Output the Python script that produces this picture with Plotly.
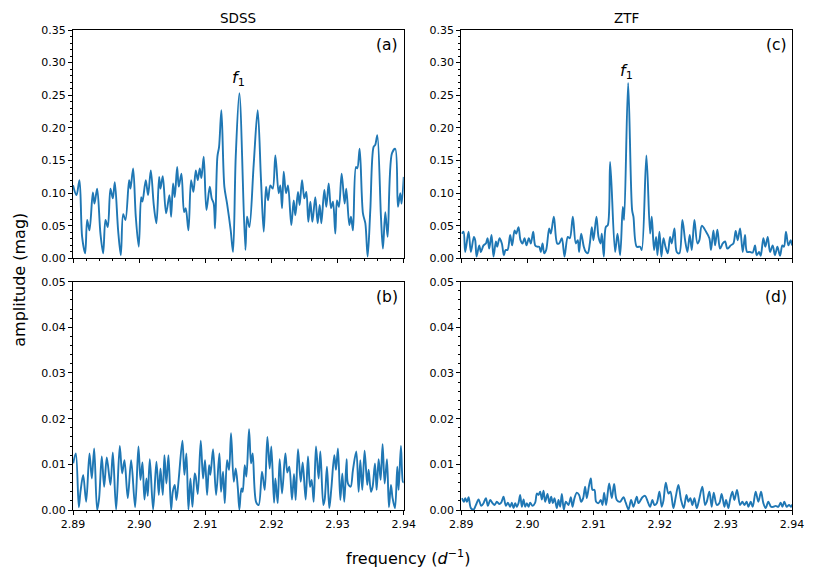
import plotly.graph_objects as go

# ---------------- data (local extrema) ----------------
sdss_freq = [2.8900, 2.89053, 2.89098, 2.89138, 2.89184, 2.89214, 2.89249, 2.89300, 2.89325, 2.89365,
             2.89415, 2.89456, 2.89491, 2.89526, 2.89566, 2.89602, 2.89632, 2.89682, 2.89723, 2.89758,
             2.89793, 2.89848, 2.89869, 2.89909, 2.89949, 2.89994, 2.90030, 2.90050, 2.90100, 2.90135,
             2.90176, 2.90221, 2.90261, 2.90302, 2.90322, 2.90357, 2.90407, 2.90458, 2.90483, 2.90513,
             2.90538, 2.90574, 2.90599, 2.90639, 2.90679, 2.90704, 2.90745, 2.90785, 2.90820, 2.90856,
             2.90886, 2.90916, 2.90941, 2.90976, 2.91017, 2.91067, 2.91097, 2.91127, 2.91147, 2.91183,
             2.91208, 2.91243, 2.91288, 2.91329, 2.91384, 2.91419, 2.91460, 2.91515, 2.91606, 2.91631,
             2.91666, 2.91732, 2.91792, 2.91842, 2.91883, 2.91918, 2.91948, 2.91983, 2.92019, 2.92059,
             2.92109, 2.92134, 2.92160, 2.92185, 2.92220, 2.92250, 2.92300, 2.92336, 2.92361, 2.92401,
             2.92426, 2.92462, 2.92497, 2.92527, 2.92557, 2.92588, 2.92618, 2.92663, 2.92698, 2.92729,
             2.92754, 2.92799, 2.92829, 2.92865, 2.92900, 2.92930, 2.92965, 2.92990, 2.93020, 2.93061,
             2.93106, 2.93131, 2.93177, 2.93202, 2.93232, 2.93277, 2.93298, 2.93333, 2.93383, 2.93419,
             2.93454, 2.93494, 2.93544, 2.93569, 2.93600, 2.93655, 2.93685, 2.93721, 2.93756, 2.93821,
             2.93872, 2.93912, 2.93947, 2.93967, 2.94000]
sdss_amp = [0.112, 0.097, 0.120, 0.033, 0.008, 0.059, 0.043, 0.101, 0.084, 0.107,
            0.038, 0.008, 0.059, 0.048, 0.107, 0.092, 0.117, 0.043, 0.005, 0.068,
            0.059, 0.120, 0.107, 0.138, 0.064, 0.018, 0.094, 0.087, 0.120, 0.097,
            0.135, 0.082, 0.054, 0.125, 0.107, 0.126, 0.069, 0.097, 0.064, 0.115,
            0.094, 0.140, 0.110, 0.130, 0.071, 0.077, 0.043, 0.120, 0.102, 0.135,
            0.120, 0.138, 0.123, 0.156, 0.074, 0.110, 0.092, 0.084, 0.046, 0.156,
            0.171, 0.227, 0.110, 0.084, 0.043, 0.010, 0.156, 0.253, 0.013, 0.064,
            0.048, 0.145, 0.227, 0.120, 0.041, 0.110, 0.089, 0.112, 0.107, 0.158,
            0.100, 0.112, 0.077, 0.133, 0.100, 0.112, 0.051, 0.089, 0.066, 0.102,
            0.082, 0.120, 0.092, 0.102, 0.056, 0.087, 0.056, 0.094, 0.054, 0.082,
            0.054, 0.105, 0.079, 0.115, 0.077, 0.087, 0.038, 0.089, 0.079, 0.130,
            0.084, 0.107, 0.051, 0.064, 0.043, 0.140, 0.138, 0.168, 0.069, 0.054,
            0.003, 0.074, 0.171, 0.174, 0.189, 0.064, 0.015, 0.071, 0.033, 0.161,
            0.168, 0.079, 0.100, 0.084, 0.125]

ztf_freq = [2.89010, 2.89035, 2.89060, 2.89111, 2.89146, 2.89191, 2.89211, 2.89232, 2.89272, 2.89297,
            2.89337, 2.89373, 2.89398, 2.89423, 2.89458, 2.89488, 2.89524, 2.89544, 2.89579, 2.89614,
            2.89645, 2.89670, 2.89700, 2.89740, 2.89770, 2.89806, 2.89831, 2.89866, 2.89896, 2.89926,
            2.89957, 2.89987, 2.90022, 2.90052, 2.90088, 2.90118, 2.90148, 2.90178, 2.90203, 2.90229,
            2.90254, 2.90284, 2.90329, 2.90354, 2.90400, 2.90450, 2.90480, 2.90521, 2.90561, 2.90611,
            2.90642, 2.90687, 2.90732, 2.90762, 2.90782, 2.90813, 2.90853, 2.90883, 2.90913, 2.90944,
            2.90974, 2.90999, 2.91044, 2.91075, 2.91105, 2.91125, 2.91155, 2.91185, 2.91216, 2.91251,
            2.91326, 2.91362, 2.91402, 2.91442, 2.91462, 2.91523, 2.91583, 2.91603, 2.91653, 2.91704,
            2.91729, 2.91799, 2.91855, 2.91880, 2.91915, 2.91946, 2.91966, 2.91996, 2.92026, 2.92057,
            2.92087, 2.92122, 2.92157, 2.92182, 2.92223, 2.92258, 2.92298, 2.92343, 2.92384, 2.92419,
            2.92454, 2.92485, 2.92525, 2.92570, 2.92600, 2.92636, 2.92701, 2.92751, 2.92776, 2.92812,
            2.92837, 2.92872, 2.92912, 2.92953, 2.92988, 2.93023, 2.93074, 2.93114, 2.93149, 2.93179,
            2.93215, 2.93255, 2.93290, 2.93320, 2.93366, 2.93406, 2.93441, 2.93467, 2.93502, 2.93527,
            2.93567, 2.93597, 2.93633, 2.93668, 2.93708, 2.93743, 2.93779, 2.93819, 2.93854, 2.93879,
            2.93909, 2.93945, 2.93980, 2.94000]
ztf_amp = [0.038, 0.041, 0.010, 0.041, 0.010, 0.033, 0.028, 0.003, 0.020, 0.010,
           0.020, 0.023, 0.031, 0.015, 0.036, 0.003, 0.026, 0.018, 0.031, 0.023,
           0.005, 0.013, 0.013, 0.036, 0.020, 0.043, 0.038, 0.048, 0.028, 0.023,
           0.031, 0.020, 0.031, 0.023, 0.041, 0.020, 0.018, 0.018, 0.010, 0.023,
           0.008, 0.013, 0.046, 0.038, 0.064, 0.023, 0.023, 0.031, 0.003, 0.033,
           0.031, 0.064, 0.023, 0.028, 0.010, 0.038, 0.018, 0.010, 0.008, 0.023,
           0.048, 0.028, 0.064, 0.033, 0.023, 0.038, 0.003, 0.048, 0.051, 0.148,
           0.010, 0.038, 0.005, 0.079, 0.059, 0.269, 0.074, 0.064, 0.018, 0.018,
           0.013, 0.158, 0.038, 0.064, 0.013, 0.033, 0.005, 0.041, 0.003, 0.031,
           0.018, 0.008, 0.033, 0.023, 0.046, 0.010, 0.008, 0.059, 0.028, 0.010,
           0.036, 0.013, 0.059, 0.023, 0.028, 0.050, 0.041, 0.031, 0.013, 0.043,
           0.020, 0.044, 0.015, 0.023, 0.026, 0.015, 0.020, 0.023, 0.042, 0.028,
           0.046, 0.010, 0.036, 0.010, 0.010, 0.009, 0.020, 0.005, 0.010, 0.004,
           0.031, 0.018, 0.033, 0.010, 0.020, 0.005, 0.018, 0.004, 0.020, 0.018,
           0.041, 0.020, 0.028, 0.020]

sdss_res_freq = [2.89003, 2.89043, 2.89088, 2.89113, 2.89154, 2.89199, 2.89249, 2.89284, 2.89320, 2.89365,
                 2.89395, 2.89435, 2.89471, 2.89511, 2.89566, 2.89602, 2.89652, 2.89707, 2.89743, 2.89778,
                 2.89828, 2.89879, 2.89939, 2.89989, 2.90020, 2.90050, 2.90080, 2.90110, 2.90130, 2.90161,
                 2.90211, 2.90261, 2.90297, 2.90322, 2.90357, 2.90382, 2.90412, 2.90443, 2.90483, 2.90508,
                 2.90538, 2.90564, 2.90599, 2.90654, 2.90684, 2.90714, 2.90745, 2.90775, 2.90805, 2.90840,
                 2.90855, 2.90886, 2.90931, 2.90966, 2.90996, 2.91027, 2.91057, 2.91077, 2.91117, 2.91163,
                 2.91213, 2.91238, 2.91268, 2.91294, 2.91329, 2.91359, 2.91389, 2.91430, 2.91460, 2.91490,
                 2.91515, 2.91545, 2.91565, 2.91596, 2.91621, 2.91661, 2.91691, 2.91716, 2.91767, 2.91807,
                 2.91857, 2.91898, 2.91938, 2.91973, 2.91998, 2.92039, 2.92059, 2.92094, 2.92124, 2.92160,
                 2.92210, 2.92240, 2.92270, 2.92310, 2.92341, 2.92366, 2.92401, 2.92442, 2.92472, 2.92517,
                 2.92552, 2.92583, 2.92608, 2.92638, 2.92673, 2.92713, 2.92739, 2.92784, 2.92804, 2.92839,
                 2.92874, 2.92905, 2.92950, 2.92975, 2.93005, 2.93041, 2.93071, 2.93101, 2.93136, 2.93156,
                 2.93197, 2.93232, 2.93282, 2.93318, 2.93343, 2.93373, 2.93408, 2.93448, 2.93469, 2.93504,
                 2.93529, 2.93565, 2.93590, 2.93620, 2.93650, 2.93680, 2.93711, 2.93746, 2.93776, 2.93806,
                 2.93831, 2.93867, 2.93902, 2.93922, 2.93957, 2.93987, 2.94000]
sdss_res_amp = [0.0102, 0.0124, 0.0006, 0.0040, 0.0077, 0.0018, 0.0124, 0.0069, 0.0135, 0.0000,
                0.0026, 0.0117, 0.0051, 0.0115, 0.0055, 0.0126, 0.0001, 0.0140, 0.0080, 0.0109,
                0.0026, 0.0109, 0.0006, 0.0139, 0.0066, 0.0104, 0.0023, 0.0069, 0.0031, 0.0111,
                0.0001, 0.0106, 0.0033, 0.0091, 0.0033, 0.0120, 0.0058, 0.0120, 0.0000, 0.0040,
                0.0055, 0.0022, 0.0069, 0.0152, 0.0077, 0.0124, 0.0001, 0.0069, 0.0007, 0.0080,
                0.0073, 0.0035, 0.0152, 0.0069, 0.0109, 0.0033, 0.0098, 0.0077, 0.0133, 0.0033,
                0.0124, 0.0040, 0.0084, 0.0015, 0.0109, 0.0088, 0.0168, 0.0062, 0.0091, 0.0051,
                0.0001, 0.0047, 0.0040, 0.0098, 0.0073, 0.0177, 0.0102, 0.0124, 0.0018, 0.0011,
                0.0084, 0.0044, 0.0160, 0.0091, 0.0139, 0.0016, 0.0069, 0.0015, 0.0111, 0.0036,
                0.0124, 0.0082, 0.0095, 0.0023, 0.0079, 0.0022, 0.0133, 0.0062, 0.0104, 0.0023,
                0.0117, 0.0051, 0.0066, 0.0018, 0.0139, 0.0069, 0.0128, 0.0011, 0.0022, 0.0095,
                0.0004, 0.0047, 0.0120, 0.0088, 0.0135, 0.0022, 0.0080, 0.0018, 0.0111, 0.0058,
                0.0051, 0.0088, 0.0128, 0.0040, 0.0109, 0.0044, 0.0130, 0.0055, 0.0088, 0.0040,
                0.0051, 0.0102, 0.0044, 0.0111, 0.0066, 0.0144, 0.0058, 0.0111, 0.0006, 0.0055,
                0.0026, 0.0004, 0.0095, 0.0044, 0.0140, 0.0062, 0.0060]

ztf_res_freq = [2.89010, 2.89040, 2.89060, 2.89086, 2.89111, 2.89146, 2.89186, 2.89222, 2.89262, 2.89302,
                2.89337, 2.89373, 2.89403, 2.89438, 2.89473, 2.89504, 2.89539, 2.89574, 2.89604, 2.89639,
                2.89675, 2.89705, 2.89740, 2.89765, 2.89791, 2.89816, 2.89841, 2.89866, 2.89891, 2.89916,
                2.89942, 2.89967, 2.89992, 2.90017, 2.90042, 2.90078, 2.90118, 2.90143, 2.90168, 2.90193,
                2.90219, 2.90244, 2.90269, 2.90304, 2.90334, 2.90360, 2.90385, 2.90410, 2.90445, 2.90470,
                2.90495, 2.90521, 2.90551, 2.90581, 2.90621, 2.90657, 2.90682, 2.90712, 2.90747, 2.90782,
                2.90813, 2.90843, 2.90873, 2.90898, 2.90934, 2.90959, 2.90984, 2.91014, 2.91039, 2.91075,
                2.91110, 2.91135, 2.91160, 2.91190, 2.91236, 2.91276, 2.91311, 2.91351, 2.91402, 2.91452,
                2.91487, 2.91528, 2.91568, 2.91603, 2.91653, 2.91679, 2.91739, 2.91779, 2.91820, 2.91855,
                2.91890, 2.91920, 2.91956, 2.91996, 2.92031, 2.92056, 2.92092, 2.92132, 2.92162, 2.92207,
                2.92243, 2.92283, 2.92323, 2.92364, 2.92404, 2.92434, 2.92464, 2.92494, 2.92525, 2.92560,
                2.92595, 2.92645, 2.92686, 2.92711, 2.92751, 2.92786, 2.92817, 2.92862, 2.92902, 2.92937,
                2.92978, 2.93003, 2.93038, 2.93063, 2.93099, 2.93129, 2.93169, 2.93215, 2.93250, 2.93280,
                2.93315, 2.93340, 2.93376, 2.93406, 2.93451, 2.93491, 2.93532, 2.93567, 2.93602, 2.93642,
                2.93683, 2.93718, 2.93753, 2.93794, 2.93829, 2.93854, 2.93884, 2.93919, 2.93955, 2.93985,
                2.94000]
ztf_res_amp = [0.0026, 0.0018, 0.0026, 0.0018, 0.0028, 0.0004, 0.0001, 0.0011, 0.0023, 0.0009,
               0.0015, 0.0026, 0.0009, 0.0022, 0.0015, 0.0011, 0.0018, 0.0013, 0.0016, 0.0029,
               0.0009, 0.0016, 0.0007, 0.0016, 0.0004, 0.0015, 0.0007, 0.0015, 0.0033, 0.0007,
               0.0023, 0.0007, 0.0015, 0.0007, 0.0016, 0.0009, 0.0016, 0.0036, 0.0033, 0.0040,
               0.0023, 0.0042, 0.0018, 0.0035, 0.0015, 0.0029, 0.0015, 0.0026, 0.0004, 0.0022,
               0.0007, 0.0035, 0.0001, 0.0018, 0.0011, 0.0028, 0.0007, 0.0026, 0.0038, 0.0033,
               0.0018, 0.0026, 0.0051, 0.0026, 0.0055, 0.0069, 0.0044, 0.0044, 0.0018, 0.0015,
               0.0022, 0.0011, 0.0038, 0.0011, 0.0058, 0.0026, 0.0057, 0.0022, 0.0018, 0.0028,
               0.0016, 0.0001, 0.0022, 0.0007, 0.0029, 0.0015, 0.0028, 0.0031, 0.0018, 0.0007,
               0.0022, 0.0011, 0.0015, 0.0040, 0.0007, 0.0020, 0.0060, 0.0036, 0.0040, 0.0004,
               0.0029, 0.0055, 0.0022, 0.0004, 0.0033, 0.0018, 0.0026, 0.0011, 0.0026, 0.0004,
               0.0022, 0.0051, 0.0011, 0.0018, 0.0040, 0.0007, 0.0038, 0.0011, 0.0015, 0.0035,
               0.0007, 0.0022, 0.0004, 0.0022, 0.0040, 0.0022, 0.0044, 0.0011, 0.0018, 0.0011,
               0.0018, 0.0007, 0.0018, 0.0007, 0.0040, 0.0018, 0.0040, 0.0015, 0.0004, 0.0018,
               0.0007, 0.0007, 0.0009, 0.0007, 0.0016, 0.0007, 0.0018, 0.0007, 0.0011, 0.0007,
               0.0012]

x_ticks = [2.89, 2.90, 2.91, 2.92, 2.93, 2.94]
top_y_ticks = [0.00, 0.05, 0.10, 0.15, 0.20, 0.25, 0.30, 0.35]
bot_y_ticks = [0.00, 0.01, 0.02, 0.03, 0.04, 0.05]
f1_freq = 2.9150
panel_titles = ["SDSS", "ZTF"]
panel_labels = ["(a)", "(b)", "(c)", "(d)"]

# ---------------- figure ----------------
BLUE = "#1f77b4"
FONT = "DejaVu Sans"
OFF = 8  # page body margin in the browser

# target page-pixel geometry of the plotting frames
AX_L, AX_A_R, AX_C_L, AX_R = 72.5, 403.5, 461, 792
AX_T, TOP_B, BOT_T, AX_B = 29.7, 258.3, 281.5, 510

W, H = 817, 572
L = AX_L - OFF
T = AX_T - OFF
R = W - (AX_R - OFF)
B = H - (AX_B - OFF)
pw, ph = W - L - R, H - T - B


def px_x(p):
    return (p - AX_L) / pw


def px_y(p):
    return (AX_B - p) / ph


xa_dom = [0, px_x(AX_A_R)]
xc_dom = [px_x(AX_C_L), 1]
ytop_dom = [px_y(TOP_B), 1]
ybot_dom = [0, px_y(BOT_T)]

fig = go.Figure()
panels = [
    (sdss_freq, sdss_amp, "x", "y"),
    (sdss_res_freq, sdss_res_amp, "x2", "y2"),
    (ztf_freq, ztf_amp, "x3", "y3"),
    (ztf_res_freq, ztf_res_amp, "x4", "y4"),
]
for fx, fy, xa, ya in panels:
    fig.add_trace(go.Scatter(x=fx, y=fy, xaxis=xa, yaxis=ya, mode="lines",
                             line=dict(color=BLUE, width=1.9, shape="spline", smoothing=0.9),
                             showlegend=False, hoverinfo="x+y", cliponaxis=True))

TICKFONT = dict(family=FONT, size=11, color="black")


def xaxis(dom, anchor, labels):
    return dict(domain=dom, anchor=anchor, range=[2.89, 2.94], tickvals=x_ticks,
                tickformat=".2f", showticklabels=labels, ticks="outside", ticklen=4,
                tickwidth=0.9, tickcolor="black", showline=True, linecolor="black",
                linewidth=1, mirror=True, showgrid=False, zeroline=False,
                minor=dict(ticks="outside", ticklen=2, tickwidth=0.7, tickcolor="black",
                           dtick=0.002, tick0=2.89, showgrid=False),
                tickfont=TICKFONT)


def yaxis(dom, anchor, rng, vals, mdt):
    return dict(domain=dom, anchor=anchor, range=rng, tickvals=vals, tickformat=".2f",
                ticks="outside", ticklen=4, tickwidth=0.9, tickcolor="black",
                showline=True, linecolor="black", linewidth=1, mirror=True,
                showgrid=False, zeroline=False,
                minor=dict(ticks="outside", ticklen=2, tickwidth=0.7, tickcolor="black",
                           dtick=mdt, tick0=0, showgrid=False),
                tickfont=TICKFONT)


fig.update_layout(
    width=W, height=H, margin=dict(l=L, r=R, t=T, b=B, pad=0),
    paper_bgcolor="white", plot_bgcolor="white",
    font=dict(family=FONT, color="black"),
    xaxis=xaxis(xa_dom, "y", False),
    yaxis=yaxis(ytop_dom, "x", [0, 0.35], top_y_ticks, 0.01),
    xaxis2=xaxis(xa_dom, "y2", True),
    yaxis2=yaxis(ybot_dom, "x2", [0, 0.05], bot_y_ticks, 0.002),
    xaxis3=xaxis(xc_dom, "y3", False),
    yaxis3=yaxis(ytop_dom, "x3", [0, 0.35], top_y_ticks, 0.01),
    xaxis4=xaxis(xc_dom, "y4", True),
    yaxis4=yaxis(ybot_dom, "x4", [0, 0.05], bot_y_ticks, 0.002),
)


def label(text, px, py, size, angle=0):
    return dict(text=text, x=px_x(px), y=px_y(py), xref="paper", yref="paper",
                xanchor="center", yanchor="middle", showarrow=False, textangle=angle,
                font=dict(size=size, family=FONT, color="black"))


ann = []
# column titles
ann.append(label(panel_titles[0], 238, 18, 13.5))
ann.append(label(panel_titles[1], 626.5, 18, 13.5))
# panel labels
for lab, px, py in [(panel_labels[0], 387, 45), (panel_labels[1], 387, 297),
                    (panel_labels[2], 776, 45), (panel_labels[3], 776, 297)]:
    ann.append(label(lab, px, py, 15.5))
# f1 labels (data coordinates)
ann.append(dict(text="<i>f</i><sub>1</sub>", x=f1_freq, y=0.276, xref="x", yref="y",
                xanchor="center", yanchor="middle", showarrow=False,
                font=dict(size=16, family=FONT, color="black")))
ann.append(dict(text="<i>f</i><sub>1</sub>", x=f1_freq, y=0.286, xref="x3", yref="y3",
                xanchor="center", yanchor="middle", showarrow=False,
                font=dict(size=16, family=FONT, color="black")))
# axis titles
ann.append(label("amplitude (mag)", 19, 280, 16, angle=-90))
ann.append(label("frequency (<i>d</i><sup>−1</sup>)", 407.5, 558, 16))
fig.update_layout(annotations=ann)

fig.write_html("out.html")
